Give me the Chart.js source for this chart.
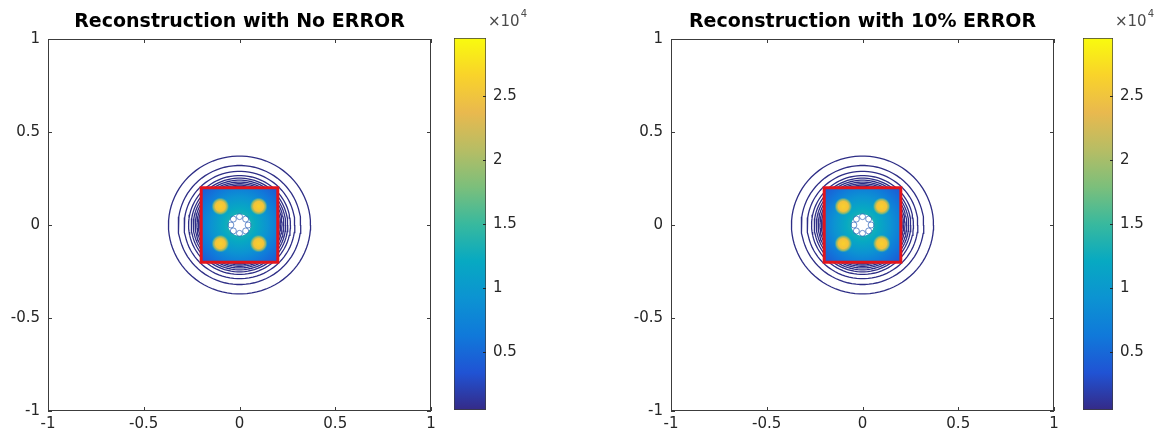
<!DOCTYPE html>
<html>
<head>
<meta charset="utf-8">
<script src="https://cdn.jsdelivr.net/npm/chart.js@4.4.1/dist/chart.umd.min.js"></script>
<style>
  html, body { margin: 0; padding: 0; background: #fff; }
  body { width: 1158px; height: 438px; position: relative; overflow: hidden; }
  canvas { position: absolute; top: 0; }
</style>
</head>
<body>
<canvas id="plotA" width="445" height="438" style="left:0px"></canvas>
<canvas id="barA" width="100" height="438" style="left:445px"></canvas>
<canvas id="plotB" width="445" height="438" style="left:623px"></canvas>
<canvas id="barB" width="84" height="438" style="left:1074px"></canvas>
<script>
// panel titles
const titles = ['Reconstruction with No ERROR', 'Reconstruction with 10% ERROR'];

// axis ticks
const xTicks = [-1, -0.5, 0, 0.5, 1];
const yTicks = [-1, -0.5, 0, 0.5, 1];

// colour bar range and ticks
const cbLimits = [500, 29500];
const cbTicks = [5000, 10000, 15000, 20000, 25000];

// contour rings (radius of each level)
const ringRadii = [0.371, 0.32, 0.289, 0.266, 0.252, 0.241, 0.231, 0.222, 0.214, 0.207];

// red square = true source region
const boxX = [-0.2, 0.2, 0.2, -0.2, -0.2];
const boxY = [-0.2, -0.2, 0.2, 0.2, -0.2];

// the four peaks
const peakX = [-0.1, 0.1, -0.1, 0.1];
const peakY = [0.1, 0.1, -0.1, -0.1];

// saturated centre and the small loops round it
const holeRadius = 0.058;
const loopX = [0.045, -0.045, 0, 0, 0.032, -0.032, 0.032, -0.032];
const loopY = [0, 0, 0.045, -0.045, 0.032, 0.032, -0.032, -0.032];

// parula colormap
const parula = ['#352a87', '#2053d4', '#1079da', '#0c93d2', '#07a9c2', '#38b99e',
                '#7cbf7b', '#b7bd64', '#e9b94e', '#f9d32a', '#f9fb0e'];

Chart.defaults.font.family = '"DejaVu Sans", sans-serif';
Chart.defaults.color = '#262626';

function pts(xs, ys) {
  return xs.map((x, i) => ({ x: x, y: ys[i] }));
}

function ring(r) {
  const out = [];
  for (let a = 0; a <= 360; a += 4) {
    const t = a * Math.PI / 180;
    out.push({ x: r * Math.cos(t), y: r * Math.sin(t) });
  }
  return out;
}

function sourceFill(c) {
  const ch = c.chart;
  if (!ch.chartArea) return parula[2];
  const sx = ch.scales.x, sy = ch.scales.y;
  const cx = sx.getPixelForValue(0), cy = sy.getPixelForValue(0);
  const r = sx.getPixelForValue(0.283) - cx;
  const g = ch.ctx.createRadialGradient(cx, cy, 0, cx, cy, r);
  g.addColorStop(0, parula[5]);
  g.addColorStop(0.3, parula[4]);
  g.addColorStop(0.52, parula[3]);
  g.addColorStop(0.72, parula[2]);
  g.addColorStop(1, parula[1]);
  return g;
}

function peakFill(c) {
  const ch = c.chart;
  if (!ch.chartArea || !c.raw) return parula[9];
  const px = ch.scales.x.getPixelForValue(c.raw.x);
  const py = ch.scales.y.getPixelForValue(c.raw.y);
  const g = ch.ctx.createRadialGradient(px, py, 0, px, py, 9);
  g.addColorStop(0, '#f9d02c');
  g.addColorStop(0.55, '#f3c23a');
  g.addColorStop(0.78, 'rgba(170,190,90,0.8)');
  g.addColorStop(1, 'rgba(56,185,158,0)');
  return g;
}

function barFill(c) {
  const a = c.chart.chartArea;
  if (!a) return parula[5];
  const g = c.chart.ctx.createLinearGradient(0, a.bottom, 0, a.top);
  parula.forEach((col, i) => g.addColorStop(i / (parula.length - 1), col));
  return g;
}

// matlab style box with inward ticks on all four sides
const frame = {
  id: 'frame',
  afterDraw(chart) {
    const { ctx, chartArea: a, scales: { x, y } } = chart;
    ctx.save();
    ctx.strokeStyle = '#3c3c3c';
    ctx.lineWidth = 1;
    ctx.strokeRect(a.left + 0.5, a.top + 0.5, a.width - 1, a.height - 1);
    ctx.beginPath();
    xTicks.forEach(v => {
      const px = Math.round(x.getPixelForValue(v)) + 0.5;
      ctx.moveTo(px, a.bottom); ctx.lineTo(px, a.bottom - 4);
      ctx.moveTo(px, a.top); ctx.lineTo(px, a.top + 4);
    });
    yTicks.forEach(v => {
      const py = Math.round(y.getPixelForValue(v)) + 0.5;
      ctx.moveTo(a.left, py); ctx.lineTo(a.left + 4, py);
      ctx.moveTo(a.right, py); ctx.lineTo(a.right - 4, py);
    });
    ctx.stroke();
    ctx.restore();
  }
};

const cbDecor = {
  id: 'cbDecor',
  afterDraw(chart) {
    const { ctx, chartArea: a, scales: { y } } = chart;
    ctx.save();
    ctx.strokeStyle = '#262626';
    ctx.lineWidth = 1;
    ctx.beginPath();
    cbTicks.forEach(v => {
      const py = Math.round(y.getPixelForValue(v)) + 0.5;
      ctx.moveTo(a.right - 3, py); ctx.lineTo(a.right, py);
    });
    ctx.stroke();
    ctx.fillStyle = '#4a4a4a';
    ctx.textBaseline = 'alphabetic';
    ctx.font = '15px "DejaVu Sans"';
    const x0 = a.right + 2;
    ctx.fillText('×10', x0, 26);
    const w = ctx.measureText('×10').width;
    ctx.font = '10px "DejaVu Sans"';
    ctx.fillText('4', x0 + w + 1, 17);
    ctx.restore();
  }
};

function makePlot(id, title) {
  const ds = [];
  ringRadii.forEach(r => ds.push({
    data: ring(r), showLine: true, borderColor: '#2e2e86', borderWidth: 1.3,
    pointRadius: 0, order: 6
  }));
  ds.push({
    data: pts(boxX, boxY), showLine: true, fill: 'shape', backgroundColor: sourceFill,
    borderColor: 'rgba(0,0,0,0)', borderWidth: 0, pointRadius: 0, order: 5
  });
  ds.push({
    data: pts(peakX, peakY), pointRadius: 9, pointBackgroundColor: peakFill,
    pointBorderWidth: 0, pointBorderColor: 'rgba(0,0,0,0)', order: 4
  });
  ds.push({
    data: ring(holeRadius), showLine: true, fill: 'shape', backgroundColor: '#ffffff',
    borderColor: 'rgba(0,0,0,0)', borderWidth: 0, pointRadius: 0, order: 3
  });
  ds.push({
    data: pts(loopX, loopY), pointRadius: 3, pointBackgroundColor: 'rgba(0,0,0,0)',
    pointBorderColor: 'rgba(60,110,190,0.75)', pointBorderWidth: 1, order: 2
  });
  ds.push({
    data: pts(boxX, boxY), showLine: true, borderColor: '#e3141c', borderWidth: 3,
    borderCapStyle: 'square', borderJoinStyle: 'miter', pointRadius: 0, order: 1
  });

  new Chart(document.getElementById(id), {
    type: 'scatter',
    data: { datasets: ds },
    options: {
      responsive: false, animation: false, events: [], devicePixelRatio: 1,
      layout: { padding: { left: 0, right: 14, top: 0, bottom: 0 } },
      plugins: {
        legend: { display: false },
        tooltip: { enabled: false },
        title: {
          display: true, text: title, fullSize: false, color: '#000',
          font: { size: 19, weight: 'bold' }, padding: { top: 11, bottom: 5.2 }
        }
      },
      scales: {
        x: {
          type: 'linear', min: -1, max: 1,
          grid: { display: false, drawTicks: false }, border: { display: false },
          ticks: { padding: 4, font: { size: 15 }, callback: v => String(v) },
          afterBuildTicks: s => { s.ticks = xTicks.map(v => ({ value: v })); },
          afterFit: s => { s.height = 27; }
        },
        y: {
          type: 'linear', min: -1, max: 1,
          grid: { display: false, drawTicks: false }, border: { display: false },
          ticks: { padding: 8, font: { size: 15 }, callback: v => String(v) },
          afterBuildTicks: s => { s.ticks = yTicks.map(v => ({ value: v })); },
          afterFit: s => { s.width = 48; }
        }
      }
    },
    plugins: [frame]
  });
}

function makeBar(id, axisW) {
  new Chart(document.getElementById(id), {
    type: 'bar',
    data: {
      labels: [''],
      datasets: [{
        data: [cbLimits], backgroundColor: barFill, borderColor: '#3c3c3c',
        borderWidth: 1, borderSkipped: false, barPercentage: 1, categoryPercentage: 1
      }]
    },
    options: {
      responsive: false, animation: false, events: [], devicePixelRatio: 1,
      layout: { padding: { left: 9, right: 0, top: 38, bottom: 28 } },
      plugins: { legend: { display: false }, tooltip: { enabled: false } },
      scales: {
        x: { display: false },
        y: {
          position: 'right', min: cbLimits[0], max: cbLimits[1],
          grid: { display: false, drawTicks: false }, border: { display: false },
          ticks: { padding: 7, font: { size: 15 }, callback: v => String(v / 10000) },
          afterBuildTicks: s => { s.ticks = cbTicks.map(v => ({ value: v })); },
          afterFit: s => { s.width = axisW; }
        }
      }
    },
    plugins: [cbDecor]
  });
}

makePlot('plotA', titles[0]);
makeBar('barA', 59);
makePlot('plotB', titles[1]);
makeBar('barB', 45);
</script>
</body>
</html>
